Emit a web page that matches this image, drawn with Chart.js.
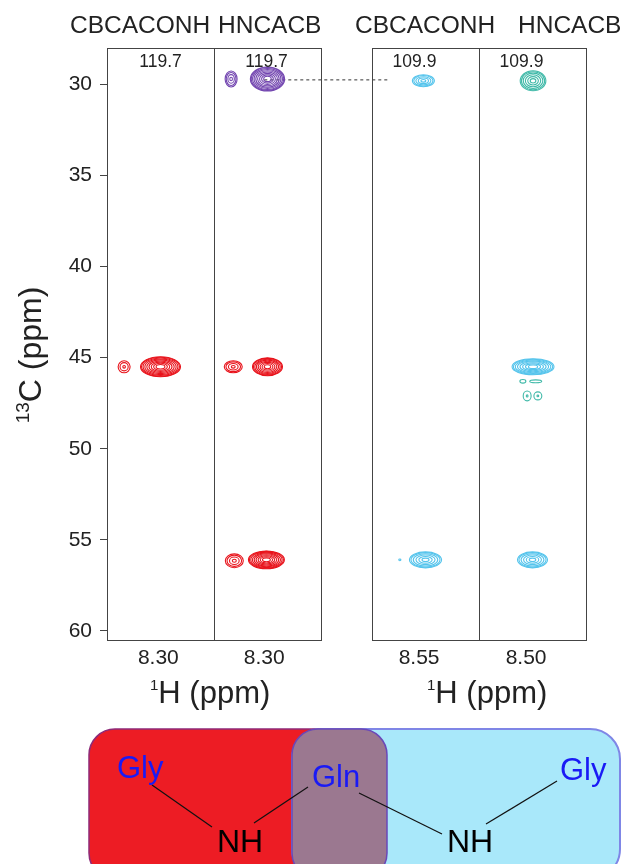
<!DOCTYPE html>
<html>
<head>
<meta charset="utf-8">
<script src="https://cdn.jsdelivr.net/npm/chart.js@4.4.1/dist/chart.umd.min.js"></script>
<style>
    html, body { margin: 0; padding: 0; background: #fff; }
    #wrap { position: relative; width: 622px; height: 864px; overflow: hidden; font-family: "Liberation Sans", Arial, sans-serif; }
    #spectra { position: absolute; left: 0; top: 0; }
    #overlay { position: absolute; left: 0; top: 0; pointer-events: none; }
</style>
</head>
<body>
<div id="wrap">
    <canvas id="spectra" width="622" height="712"></canvas>
    <svg id="overlay" width="622" height="864" font-family="Liberation Sans, Arial, sans-serif">
        <!-- strip headers -->
        <g font-size="24.5" fill="#222">
            <text x="70" y="33">CBCACONH</text>
            <text x="218" y="33">HNCACB</text>
            <text x="355" y="33">CBCACONH</text>
            <text x="518" y="33">HNCACB</text>
        </g>
        <g font-size="17.5" fill="#222" text-anchor="middle" id="stripLabelGroup"></g>

        <!-- axis titles -->
        <text x="150" y="703" font-size="31" fill="#222"><tspan font-size="15" dy="-13">1</tspan><tspan dy="13">H (ppm)</tspan></text>
        <text x="427" y="703" font-size="31" fill="#222"><tspan font-size="15" dy="-13">1</tspan><tspan dy="13">H (ppm)</tspan></text>
        <text transform="translate(41,355) rotate(-90)" text-anchor="middle" font-size="32" fill="#222"><tspan font-size="19" dy="-12">13</tspan><tspan dy="12">C  (ppm)</tspan></text>

        <!-- connectivity sketch -->
        <rect x="89" y="729" width="298" height="150" rx="26" fill="#ed1c24" stroke="#8e2a78" stroke-width="1.5"/>
        <rect x="292" y="729" width="328" height="150" rx="30" fill="#a9e8fa" stroke="#7f86e6" stroke-width="2"/>
        <rect x="292" y="729" width="95" height="150" rx="26" fill="#9b7890" stroke="#6a48b8" stroke-width="1.5"/>
        <g stroke="#111" stroke-width="1.2">
            <line x1="152" y1="785" x2="212" y2="827"/>
            <line x1="254" y1="823" x2="308" y2="787"/>
            <line x1="359" y1="793" x2="442" y2="834"/>
            <line x1="486" y1="824" x2="557" y2="781"/>
        </g>
        <g font-size="31" fill="#1a1af5">
            <text x="117" y="778">Gly</text>
            <text x="312" y="787">Gln</text>
            <text x="560" y="780">Gly</text>
        </g>
        <g font-size="32" fill="#000">
            <text x="217" y="852">NH</text>
            <text x="447" y="852">NH</text>
        </g>
    </svg>
</div>
<script>
// strips (1H ppm window of each strip, reversed axis)
const stripLabels = ['119.7', '119.7', '109.9', '109.9'];
const stripHi = [8.348, 8.347, 8.594, 8.544];
const stripLo = [8.248, 8.247, 8.494, 8.444];
const xTickValues = [8.30, 8.30, 8.55, 8.50];
const xTickLabels = ['8.30', '8.30', '8.55', '8.50'];
const yTicks = [30, 35, 40, 45, 50, 55, 60];

// peak series
const seriesNames = ['Gln CA/CB', 'Gln CB', 'Gly CA', 'Gly CA (HNCACB)'];
const seriesColors = ['#e8141c', '#7346b0', '#55c4ec', '#3fb9a8'];

// peaks: series, strip, 1H, 13C, half widths (ppm), contour levels
const peakSeries = [0, 0, 1, 1, 0, 0, 0, 0, 2, 2, 2, 3, 2, 3, 3, 3, 3, 2];
const peakStrip  = [0, 0, 1, 1, 1, 1, 1, 1, 2, 2, 2, 3, 3, 3, 3, 3, 3, 3];
const peakH      = [8.332, 8.298, 8.331, 8.297, 8.329, 8.297, 8.328, 8.298, 8.546, 8.544, 8.568, 8.4935, 8.4935, 8.503, 8.491, 8.499, 8.489, 8.494];
const peakC      = [45.5, 45.5, 29.7, 29.7, 45.5, 45.5, 56.15, 56.1, 29.8, 56.1, 56.1, 29.8, 45.5, 46.3, 46.3, 47.1, 47.1, 56.1];
const peakWidthH = [0.0056, 0.0187, 0.0056, 0.016, 0.0084, 0.014, 0.0084, 0.0168, 0.0103, 0.015, 0.001, 0.012, 0.0196, 0.0028, 0.0056, 0.0037, 0.0037, 0.014];
const peakWidthC = [0.33, 0.55, 0.44, 0.66, 0.33, 0.49, 0.38, 0.49, 0.33, 0.44, 0.05, 0.55, 0.44, 0.1, 0.08, 0.27, 0.22, 0.44];
const peakLevels = [3, 9, 4, 9, 4, 8, 4, 9, 5, 6, 1, 6, 8, 1, 1, 2, 2, 6];

// sequential walk line from Gln CB (HNCACB 119.7) to CBCACONH 109.9
const walkStrip = [1, 2];
const walkH = [8.300, 8.577];
const walkC = [29.75, 29.75];

const stripGap = 0.477;
const totalWidth = 4 + stripGap;

function stripOffset(strip) {
    return strip + (strip >= 2 ? stripGap : 0);
}

function stripX(strip, ppm) {
    return stripOffset(strip) + (stripHi[strip] - ppm) / (stripHi[strip] - stripLo[strip]);
}

function buildSeries(idx) {
    const pts = [];
    for (let i = 0; i < peakSeries.length; i++) {
        if (peakSeries[i] !== idx) continue;
        const s = peakStrip[i];
        pts.push({
            x: stripX(s, peakH[i]),
            y: peakC[i],
            wx: peakWidthH[i] / (stripHi[s] - stripLo[s]),
            wy: peakWidthC[i],
            n: peakLevels[i]
        });
    }
    return pts;
}

// draws nested contour rings for every peak
const contourPlugin = {
    id: 'contours',
    afterDatasetsDraw(chart) {
        const ctx = chart.ctx;
        const xs = chart.scales.x;
        const ys = chart.scales.y;
        ctx.save();
        chart.data.datasets.forEach(ds => {
            if (!ds.contour) return;
            ctx.strokeStyle = ds.borderColor;
            ctx.lineWidth = 1.1;
            ds.data.forEach(p => {
                const cx = xs.getPixelForValue(p.x);
                const cy = ys.getPixelForValue(p.y);
                const rx = Math.abs(xs.getPixelForValue(p.x + p.wx) - cx);
                const ry = Math.abs(ys.getPixelForValue(p.y + p.wy) - cy);
                for (let k = 0; k < p.n; k++) {
                    const f = p.n === 1 ? 1 : 1 - 0.78 * Math.pow(k / (p.n - 1), 1.3);
                    ctx.beginPath();
                    ctx.ellipse(cx, cy, Math.max(rx * f, 0.6), Math.max(ry * f, 0.6), 0, 0, Math.PI * 2);
                    ctx.stroke();
                }
            });
        });
        ctx.restore();
    }
};

// strip frames
const framePlugin = {
    id: 'frames',
    afterDraw(chart) {
        const ctx = chart.ctx;
        const xs = chart.scales.x;
        const {top, bottom} = chart.chartArea;
        ctx.save();
        ctx.strokeStyle = '#444';
        ctx.lineWidth = 1;
        for (let s = 0; s < 4; s++) {
            const l = Math.round(xs.getPixelForValue(stripOffset(s))) + 0.5;
            const r = Math.round(xs.getPixelForValue(stripOffset(s) + 1)) + 0.5;
            ctx.strokeRect(l, Math.round(top) + 0.5, r - l, Math.round(bottom - top));
        }
        ctx.restore();
    }
};

document.addEventListener('DOMContentLoaded', () => {
    const datasets = seriesNames.map((name, i) => ({
        label: name,
        data: buildSeries(i),
        borderColor: seriesColors[i],
        backgroundColor: seriesColors[i],
        pointRadius: 0,
        contour: true
    }));
    datasets.push({
        type: 'line',
        label: 'walk',
        data: walkStrip.map((s, i) => ({x: stripX(s, walkH[i]), y: walkC[i]})),
        borderColor: '#333',
        borderWidth: 1,
        borderDash: [3, 3],
        pointRadius: 0,
        fill: false
    });

    const tickFont = {family: 'Liberation Sans, Arial, sans-serif', size: 21};

    window.spectraChart = new Chart(document.getElementById('spectra').getContext('2d'), {
        type: 'scatter',
        data: {datasets: datasets},
        plugins: [contourPlugin, framePlugin],
        options: {
            responsive: false,
            animation: false,
            events: [],
            layout: {padding: {left: 57, right: 36, top: 48, bottom: 32}},
            plugins: {legend: {display: false}, tooltip: {enabled: false}},
            scales: {
                x: {
                    type: 'linear',
                    min: 0,
                    max: totalWidth,
                    grid: {display: false, drawTicks: false},
                    border: {display: false},
                    afterBuildTicks: s => { s.ticks = xTickValues.map((v, i) => ({value: stripX(i, v)})); },
                    afterFit: s => { s.height = 40; },
                    ticks: {
                        autoSkip: false,
                        maxRotation: 0,
                        padding: 6,
                        color: '#222',
                        font: tickFont,
                        callback: (v, i) => xTickLabels[i]
                    }
                },
                y: {
                    type: 'linear',
                    reverse: true,
                    min: 28,
                    max: 60.5,
                    grid: {drawOnChartArea: false, drawTicks: true, tickLength: 7, color: '#444'},
                    border: {display: false},
                    afterBuildTicks: s => { s.ticks = yTicks.map(v => ({value: v})); },
                    afterFit: s => { s.width = 50; },
                    ticks: {padding: 8, color: '#222', font: tickFont}
                }
            }
        }
    });

    // strip ppm labels at the top of each strip
    const xs = window.spectraChart.scales.x;
    const g = document.getElementById('stripLabelGroup');
    const nudge = [0, -1, -11, -11];
    stripLabels.forEach((lab, i) => {
        const t = document.createElementNS('http://www.w3.org/2000/svg', 'text');
        t.setAttribute('x', xs.getPixelForValue(stripOffset(i) + 0.5) + nudge[i]);
        t.setAttribute('y', 67);
        t.textContent = lab;
        g.appendChild(t);
    });
});
</script>
</body>
</html>
